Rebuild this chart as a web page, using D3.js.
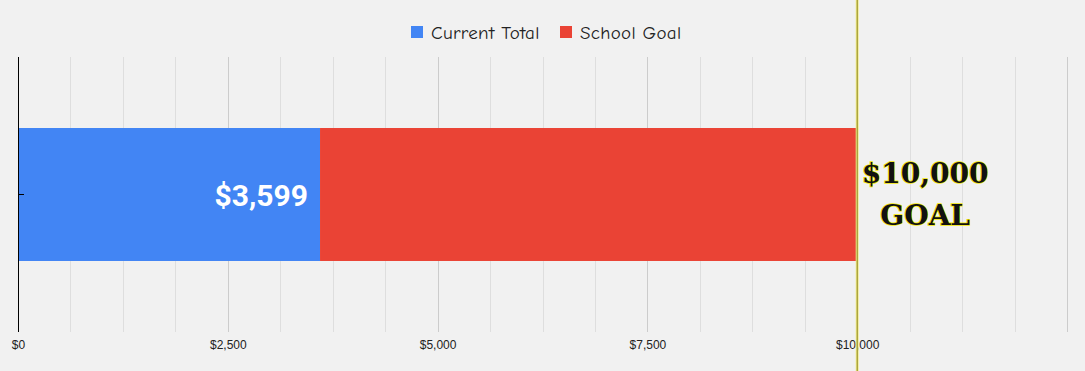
<!DOCTYPE html>
<html>
<head>
<meta charset="utf-8">
<script src="https://cdn.jsdelivr.net/npm/d3@7"></script>
<style>
  body { margin: 0; background: #f1f1f1; }
  svg { display: block; }
</style>
</head>
<body>
<script>
// data
const categories = ["Fundraiser"]
const seriesNames = ["Current Total", "School Goal"]
const currentTotal = [3599]
const schoolGoal = [6401]   // remaining to reach the goal, stacked on top
const goalValue = 10000
const tickValues = [0, 2500, 5000, 7500, 10000]
const colors = ["#4285f4", "#ea4335"]

const width = 1085
const height = 371
const margin = {top: 57, right: 18, bottom: 39, left: 18}

const svg = d3.select("body").append("svg")
    .attr("width", width)
    .attr("height", height)

svg.append("rect")
    .attr("width", width)
    .attr("height", height)
    .attr("fill", "#f1f1f1")

const x = d3.scaleLinear()
    .domain([0, 12500])
    .range([margin.left, width - margin.right])

const y = d3.scaleBand()
    .domain(categories)
    .range([margin.top, height - margin.bottom])
    .paddingInner(0.5)
    .paddingOuter(0.267)

// gridlines: minor every 625, major every 2500
svg.append("g")
    .selectAll("line")
    .data(d3.range(625, 12501, 625))
    .join("line")
    .attr("x1", d => Math.round(x(d)) + 0.5)
    .attr("x2", d => Math.round(x(d)) + 0.5)
    .attr("y1", margin.top)
    .attr("y2", height - margin.bottom)
    .attr("stroke", d => d % 2500 === 0 ? "#cccccc" : "#dedede")
    .attr("stroke-width", 1)

// stacked bars
const rows = categories.map((c, i) => ({cat: c, current: currentTotal[i], goal: schoolGoal[i]}))
const stack = d3.stack().keys(["current", "goal"])(rows)

svg.append("g")
    .selectAll("g")
    .data(stack)
    .join("g")
    .attr("fill", (d, i) => colors[i])
    .selectAll("rect")
    .data(d => d)
    .join("rect")
    .attr("x", d => x(d[0]))
    .attr("width", d => x(d[1]) - x(d[0]))
    .attr("y", d => y(d.data.cat))
    .attr("height", y.bandwidth())

// y axis
const yAxis = svg.append("g")
    .attr("transform", `translate(${margin.left},0)`)
    .call(d3.axisLeft(y).tickSize(6).tickFormat(""))
yAxis.select(".domain").remove()
yAxis.selectAll(".tick line").attr("x2", 6).attr("stroke", "#000")
svg.append("line")
    .attr("x1", margin.left + 0.5).attr("x2", margin.left + 0.5)
    .attr("y1", margin.top).attr("y2", height - margin.bottom)
    .attr("stroke", "#000")

// x axis labels
const xAxis = svg.append("g")
    .attr("transform", `translate(0,${height - margin.bottom})`)
    .call(d3.axisBottom(x).tickValues(tickValues).tickSize(0).tickPadding(8)
        .tickFormat(d => "$" + d3.format(",")(d)))
xAxis.select(".domain").remove()
xAxis.selectAll("text")
    .attr("font-family", "Arial, 'Liberation Sans', sans-serif")
    .attr("font-size", 12)
    .attr("fill", "#222")

// goal line
svg.append("line")
    .attr("x1", x(goalValue)).attr("x2", x(goalValue))
    .attr("y1", 0).attr("y2", height)
    .attr("stroke", "#f4ee8a")
    .attr("stroke-width", 3)
svg.append("line")
    .attr("x1", x(goalValue)).attr("x2", x(goalValue))
    .attr("y1", 0).attr("y2", height)
    .attr("stroke", "#8a8420")
    .attr("stroke-width", 1)

// value label
svg.append("text")
    .attr("x", x(currentTotal[0]) - 12)
    .attr("y", y(categories[0]) + y.bandwidth() / 2 + 11)
    .attr("text-anchor", "end")
    .attr("font-family", "Roboto, sans-serif")
    .attr("font-weight", "bold")
    .attr("font-size", 30)
    .attr("fill", "#fff")
    .text("$" + d3.format(",")(currentTotal[0]))

// goal label
const gx = x(goalValue) + 68
const goalText = svg.append("text")
    .attr("text-anchor", "middle")
    .attr("font-family", "'DejaVu Serif', serif")
    .attr("font-weight", "bold")
    .attr("font-size", 28)
    .attr("fill", "#111")
    .attr("stroke", "#f2e600")
    .attr("stroke-width", 1.5)
    .attr("paint-order", "stroke")
goalText.append("tspan").attr("x", gx).attr("y", 183)
    .text("$" + d3.format(",")(goalValue))
goalText.append("tspan").attr("x", gx).attr("y", 225)
    .text("GOAL")

// legend
const legend = svg.append("g")
    .attr("font-family", "'Comic Sans MS', 'Comic Neue', cursive, 'DejaVu Sans'")
    .attr("font-size", 19)
    .attr("letter-spacing", 0.3)
const legendX = [411, 560]
seriesNames.forEach((name, i) => {
    legend.append("rect")
        .attr("x", legendX[i]).attr("y", 26)
        .attr("width", 12).attr("height", 12)
        .attr("fill", colors[i])
    legend.append("text")
        .attr("x", legendX[i] + 20).attr("y", 39)
        .attr("fill", "#222")
        .text(name)
})
</script>
</body>
</html>
